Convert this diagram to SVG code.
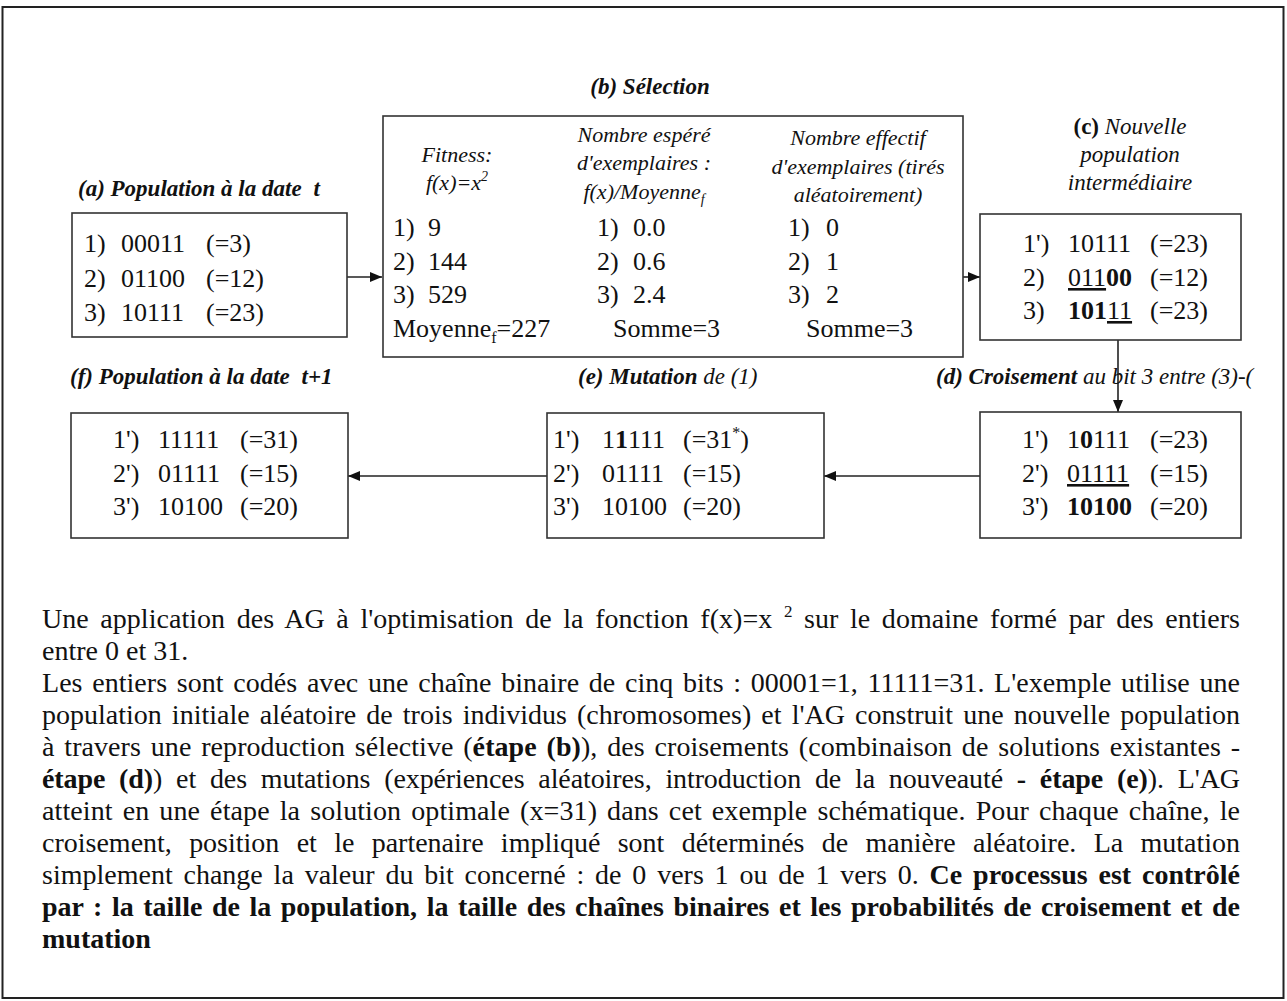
<svg xmlns="http://www.w3.org/2000/svg" width="1287" height="1001" viewBox="0 0 1287 1001">
<style>
  text { font-family: "Liberation Serif", "Times New Roman", serif; fill: #111; }
  .frame { fill: #fff; stroke: #222; stroke-width: 2; }
  .box { fill: #fff; stroke: #333; stroke-width: 1.6; }
  .row { font-size: 26px; }
  .hdr { font-size: 22px; font-style: italic; }
  .lbl { font-size: 23px; font-style: italic; font-weight: bold; }
  .sub { font-size: 23px; font-style: italic; }
  .b { font-weight: bold; }
  .nb { font-weight: normal; }
  .up { font-style: normal; }
  .u { text-decoration: underline; }
  .para { font-size: 28px; }
  .link { stroke: #222; stroke-width: 1.6; fill: none; marker-end: url(#arrow); }
</style>
<defs>
  <marker id="arrow" viewBox="0 0 12 10" refX="12" refY="5" markerWidth="12" markerHeight="10" markerUnits="userSpaceOnUse" orient="auto">
    <path d="M0,0 L12,5 L0,10 Z" fill="#111"/>
  </marker>
</defs>

<rect class="frame" x="2.5" y="7" width="1281" height="991"/>

<!-- connectors -->
<g id="connectors">
  <path class="link" d="M347,277 H382"/>
  <path class="link" d="M963,277 H980"/>
  <path class="link" d="M1118,340 V412"/>
  <path class="link" d="M980,476 H824"/>
  <path class="link" d="M547,476 H348"/>
</g>

<!-- (a) initial population -->
<g id="node-a">
  <text class="lbl" x="78" y="196">(a) Population à la date <tspan dx="6">t</tspan></text>
  <rect class="box" x="72" y="213" width="275" height="124"/>
  <text class="row" x="84" y="252">1)</text><text class="row" x="121" y="252">00011</text><text class="row" x="206" y="252">(=3)</text>
  <text class="row" x="84" y="287">2)</text><text class="row" x="121" y="287">01100</text><text class="row" x="206" y="287">(=12)</text>
  <text class="row" x="84" y="321">3)</text><text class="row" x="121" y="321">10111</text><text class="row" x="206" y="321">(=23)</text>
</g>

<!-- (b) selection table -->
<g id="node-b">
  <text class="lbl" x="650" y="94" text-anchor="middle">(b) Sélection</text>
  <rect class="box" x="383" y="116" width="580" height="241"/>
  <text class="hdr" x="457" y="162" text-anchor="middle">Fitness:</text>
  <text class="hdr" x="457" y="190" text-anchor="middle">f(x)=x<tspan font-size="14" dy="-9">2</tspan></text>
  <text class="hdr" x="644" y="142" text-anchor="middle">Nombre espéré</text>
  <text class="hdr" x="644" y="170" text-anchor="middle">d'exemplaires :</text>
  <text class="hdr" x="644" y="199" text-anchor="middle">f(x)/Moyenne<tspan font-size="14" dy="5">f</tspan></text>
  <text class="hdr" x="858" y="145" text-anchor="middle">Nombre effectif</text>
  <text class="hdr" x="858" y="174" text-anchor="middle">d'exemplaires (tirés</text>
  <text class="hdr" x="858" y="202" text-anchor="middle">aléatoirement)</text>

  <text class="row" x="393" y="236">1)</text><text class="row" x="428" y="236">9</text>
  <text class="row" x="393" y="270">2)</text><text class="row" x="428" y="270">144</text>
  <text class="row" x="393" y="303">3)</text><text class="row" x="428" y="303">529</text>
  <text class="row" x="393" y="337">Moyenne<tspan font-size="16" dy="6">f</tspan><tspan dy="-6">=227</tspan></text>

  <text class="row" x="597" y="236">1)</text><text class="row" x="633" y="236">0.0</text>
  <text class="row" x="597" y="270">2)</text><text class="row" x="633" y="270">0.6</text>
  <text class="row" x="597" y="303">3)</text><text class="row" x="633" y="303">2.4</text>
  <text class="row" x="613" y="337">Somme=3</text>

  <text class="row" x="788" y="236">1)</text><text class="row" x="826" y="236">0</text>
  <text class="row" x="788" y="270">2)</text><text class="row" x="826" y="270">1</text>
  <text class="row" x="788" y="303">3)</text><text class="row" x="826" y="303">2</text>
  <text class="row" x="806" y="337">Somme=3</text>
</g>

<!-- (c) intermediate population -->
<g id="node-c">
  <text class="sub" x="1130" y="134" text-anchor="middle"><tspan class="b up">(c)</tspan> Nouvelle</text>
  <text class="sub" x="1130" y="162" text-anchor="middle">population</text>
  <text class="sub" x="1130" y="190" text-anchor="middle">intermédiaire</text>
  <rect class="box" x="980" y="214" width="261" height="126"/>
  <text class="row" x="1023" y="252">1')</text><text class="row" x="1068" y="252">10111</text><text class="row" x="1150" y="252">(=23)</text>
  <text class="row" x="1023" y="286">2)</text><text class="row" x="1068" y="286"><tspan class="u">011</tspan><tspan class="b">00</tspan></text><text class="row" x="1150" y="286">(=12)</text>
  <text class="row" x="1023" y="319">3)</text><text class="row" x="1068" y="319"><tspan class="b">101</tspan><tspan class="u">11</tspan></text><text class="row" x="1150" y="319">(=23)</text>
</g>

<!-- (d) crossover -->
<g id="node-d">
  <text class="lbl" x="936" y="384">(d) Croisement<tspan class="nb"> au bit 3 entre (3)-(</tspan></text>
  <rect class="box" x="980" y="412" width="261" height="126"/>
  <text class="row" x="1022" y="448">1')</text><text class="row" x="1067" y="448">1<tspan class="b">0</tspan>111</text><text class="row" x="1150" y="448">(=23)</text>
  <text class="row" x="1022" y="482">2')</text><text class="row" x="1067" y="482"><tspan class="u">01111</tspan></text><text class="row" x="1150" y="482">(=15)</text>
  <text class="row" x="1022" y="515">3')</text><text class="row b" x="1067" y="515">10100</text><text class="row" x="1150" y="515">(=20)</text>
</g>

<!-- (e) mutation -->
<g id="node-e">
  <text class="lbl" x="578" y="384">(e) Mutation<tspan class="nb"> de (1)</tspan></text>
  <rect class="box" x="547" y="413" width="277" height="125"/>
  <text class="row" x="553" y="448">1')</text><text class="row" x="602" y="448">1<tspan class="b">1</tspan>111</text><text class="row" x="683" y="448">(=31<tspan font-size="16" dy="-10">*</tspan><tspan dy="10">)</tspan></text>
  <text class="row" x="553" y="482">2')</text><text class="row" x="602" y="482">01111</text><text class="row" x="683" y="482">(=15)</text>
  <text class="row" x="553" y="515">3')</text><text class="row" x="602" y="515">10100</text><text class="row" x="683" y="515">(=20)</text>
</g>

<!-- (f) next population -->
<g id="node-f">
  <text class="lbl" x="70" y="384">(f) Population à la date <tspan dx="6">t+1</tspan></text>
  <rect class="box" x="71" y="413" width="277" height="125"/>
  <text class="row" x="113" y="448">1')</text><text class="row" x="158" y="448">11111</text><text class="row" x="240" y="448">(=31)</text>
  <text class="row" x="113" y="482">2')</text><text class="row" x="158" y="482">01111</text><text class="row" x="240" y="482">(=15)</text>
  <text class="row" x="113" y="515">3')</text><text class="row" x="158" y="515">10100</text><text class="row" x="240" y="515">(=20)</text>
</g>

<!-- explanatory paragraph, justified lines: word-spacing widens the gaps, textLength pins the right edge -->
<g id="caption">
  <text class="para" x="42" y="628" word-spacing="4.6" textLength="1198" lengthAdjust="spacing">Une application des AG à l'optimisation de la fonction f(x)=x <tspan font-size="17" dy="-11">2</tspan><tspan dy="11"> sur le domaine formé par des entiers</tspan></text>
  <text class="para" x="42" y="660">entre 0 et 31.</text>
  <text class="para" x="42" y="692" word-spacing="2.6" textLength="1198" lengthAdjust="spacing">Les entiers sont codés avec une chaîne binaire de cinq bits : 00001=1, 11111=31. L'exemple utilise une</text>
  <text class="para" x="42" y="724" word-spacing="3.1" textLength="1198" lengthAdjust="spacing">population initiale aléatoire de trois individus (chromosomes) et l'AG construit une nouvelle population</text>
  <text class="para" x="42" y="756" word-spacing="2.7" textLength="1198" lengthAdjust="spacing">à travers une reproduction sélective (<tspan class="b">étape (b)</tspan>), des croisements (combinaison de solutions existantes -</text>
  <text class="para" x="42" y="788" word-spacing="6.9" textLength="1198" lengthAdjust="spacing"><tspan class="b">étape (d)</tspan>) et des mutations (expériences aléatoires, introduction de la nouveauté <tspan class="b">- étape (e)</tspan>). L'AG</text>
  <text class="para" x="42" y="820" word-spacing="2.9" textLength="1198" lengthAdjust="spacing">atteint en une étape la solution optimale (x=31) dans cet exemple schématique. Pour chaque chaîne, le</text>
  <text class="para" x="42" y="852" word-spacing="10.3" textLength="1198" lengthAdjust="spacing">croisement, position et le partenaire impliqué sont déterminés de manière aléatoire. La mutation</text>
  <text class="para" x="42" y="884" word-spacing="3.8" textLength="1198" lengthAdjust="spacing">simplement change la valeur du bit concerné : de 0 vers 1 ou de 1 vers 0. <tspan class="b">Ce processus est contrôlé</tspan></text>
  <text class="para b" x="42" y="916" word-spacing="2.5" textLength="1198" lengthAdjust="spacing">par : la taille de la population, la taille des chaînes binaires et les probabilités de croisement et de</text>
  <text class="para b" x="42" y="948">mutation</text>
</g>
</svg>
